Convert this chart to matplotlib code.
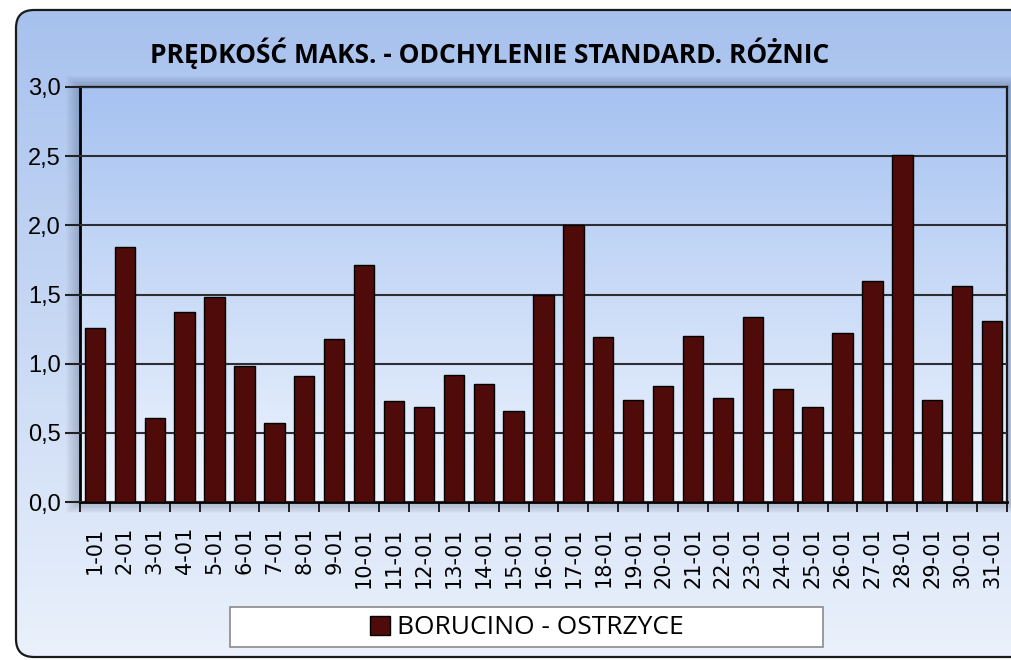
import numpy as np
import matplotlib
matplotlib.use("Agg")
import matplotlib.pyplot as plt
from matplotlib.patches import FancyBboxPatch, Rectangle
from matplotlib.ticker import FuncFormatter, MultipleLocator, FixedLocator

# --- data -------------------------------------------------------------
days = [f"{d}-01" for d in range(1, 32)]
std_diff = [1.26, 1.84, 0.61, 1.37, 1.48, 0.98, 0.57, 0.91, 1.18, 1.71,
            0.73, 0.69, 0.92, 0.85, 0.66, 1.50, 2.00, 1.19, 0.74, 0.84,
            1.20, 0.75, 1.34, 0.82, 0.69, 1.22, 1.60, 2.51, 0.74, 1.56,
            1.31]
series_name = "BORUCINO - OSTRZYCE"
title = "PRĘDKOŚĆ MAKS. - ODCHYLENIE STANDARD. RÓŻNIC"

W, H = 1011, 660
bar_color = "#4f0a0a"

fig = plt.figure(figsize=(W / 100, H / 100), dpi=100)
fig.patch.set_facecolor("white")

# --- rounded chart-area background with vertical gradient ---------------
bg = fig.add_axes([0, 0, 1, 1], zorder=0)
bg.set_xlim(0, W)
bg.set_ylim(H, 0)
bg.axis("off")

frame = FancyBboxPatch((16, 10), W + 30, 647,
                       boxstyle="round,pad=0,rounding_size=18",
                       facecolor="none", edgecolor="#1a1a1a", lw=1.6, zorder=5)
bg.add_patch(frame)
top_c = np.array([0.655, 0.757, 0.933])
bot_c = np.array([0.918, 0.945, 0.985])
img = top_c + (bot_c - top_c) * np.linspace(0, 1, 256)[:, None, None]
im = bg.imshow(img, extent=[16, W + 46, 657, 10], aspect="auto", zorder=1)
im.set_clip_path(frame)

# soft shadow around the plot area
px0, py0, px1, py1 = 80, 87, 1007, 502
for k in range(14, 0, -1):
    bg.add_patch(Rectangle((px0 - k, py0 - k * 0.8), (px1 - px0) + 2 * k, (py1 - py0) + k * 1.6,
                           facecolor="#2a3550", alpha=0.018, edgecolor="none", zorder=2))

# legend box (drawn on the background layer so the legend sits on top)
bg.add_patch(Rectangle((230, 607), 593, 40, facecolor="white",
                       edgecolor="#8a8a8a", lw=1.2, zorder=6))

# --- plot area ----------------------------------------------------------
ax = fig.add_axes([px0 / W, 1 - py1 / H, (px1 - px0) / W, (py1 - py0) / H], zorder=2)
ax.set_facecolor("none")
x = np.arange(len(days))
ax.set_xlim(-0.5, len(days) - 0.5)
ax.set_ylim(0, 3.0)

pa_top = np.array([0.651, 0.761, 0.945])
pa_bot = np.array([0.937, 0.961, 0.996])
pimg = pa_top + (pa_bot - pa_top) * np.linspace(0, 1, 256)[:, None, None]
ax.imshow(pimg, extent=[-0.5, len(days) - 0.5, 0, 3.0], aspect="auto", zorder=0)

ax.bar(x, std_diff, width=0.68, color=bar_color, edgecolor="black",
       linewidth=1.0, zorder=3, label=series_name)

ax.yaxis.set_major_locator(MultipleLocator(0.5))
ax.yaxis.set_major_formatter(FuncFormatter(lambda v, p: f"{v:.1f}".replace(".", ",")))
ax.yaxis.grid(True, color="#2d2d33", lw=1.5, zorder=2)
ax.set_axisbelow(False)

ax.set_xticks(x)
ax.set_xticklabels(days, rotation=90, fontsize=15, family="DejaVu Sans")
ax.xaxis.set_minor_locator(FixedLocator(np.arange(-0.5, len(days), 1.0)))
ax.tick_params(axis="x", which="major", length=0, pad=18)
ax.tick_params(axis="x", which="minor", length=7, width=1.2, direction="out", color="black")
ax.tick_params(axis="y", length=11, width=1.5, direction="out", color="#222222",
               labelsize=17, pad=3)
for lab in ax.get_yticklabels():
    lab.set_family("Liberation Sans")

for side in ("left", "bottom"):
    ax.spines[side].set_color("black")
    ax.spines[side].set_linewidth(2.0)
for side in ("top", "right"):
    ax.spines[side].set_color("#1a1a1a")
    ax.spines[side].set_linewidth(1.6)

# --- title ---------------------------------------------------------------
fig.text(490 / W, 1 - 53 / H, title, ha="center", va="center",
         fontsize=19, fontweight="bold", family=["Open Sans", "DejaVu Sans"])

# --- legend ----------------------------------------------------------------
leg = ax.legend(loc="center", bbox_to_anchor=(527 / W, 1 - 628 / H),
                bbox_transform=fig.transFigure, frameon=False,
                prop={"family": "Open Sans", "size": 19},
                handlelength=0.75, handleheight=0.75, handletextpad=0.3)
leg.set_zorder(10)

fig.savefig("out.png", dpi=100)
